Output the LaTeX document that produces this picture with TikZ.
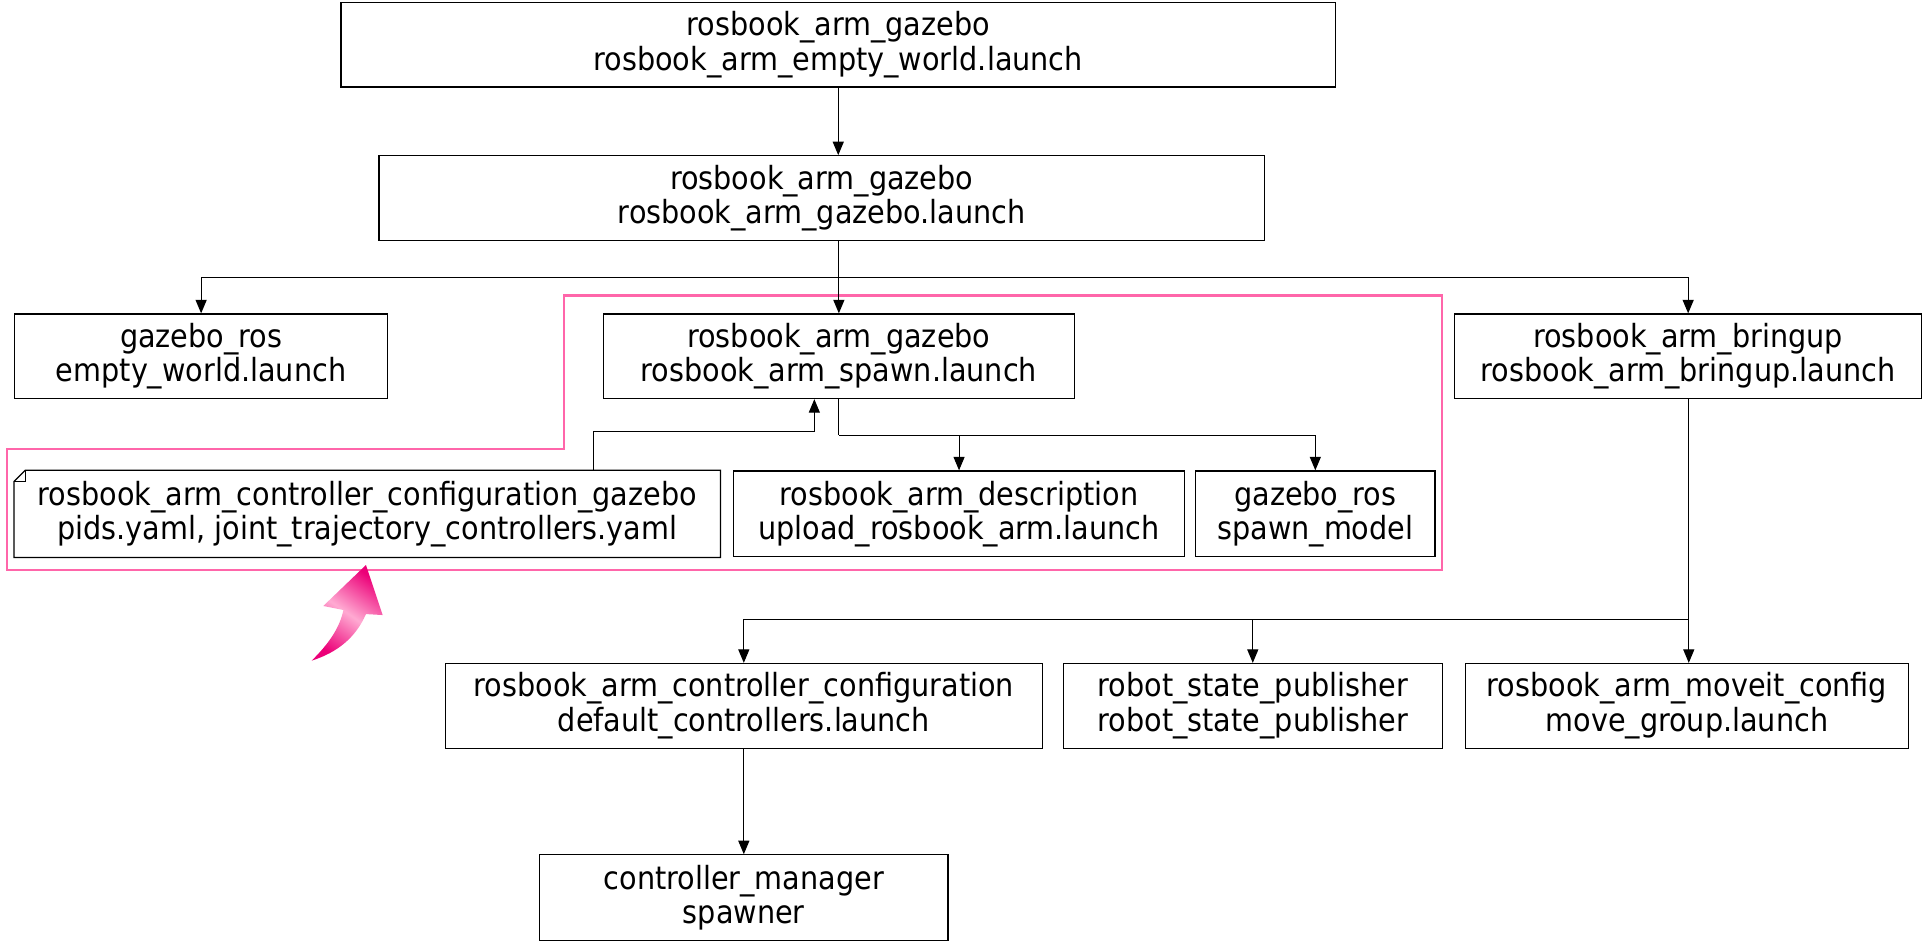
\documentclass[tikz,border=0pt]{standalone}
\usepackage{fontspec}
\setmainfont{DejaVu Sans Condensed}
\usetikzlibrary{arrows.meta,calc}
\definecolor{pinkline}{RGB}{255,102,170}
\definecolor{pinkdark}{RGB}{236,0,120}
\definecolor{pinklight}{RGB}{255,170,210}
\begin{document}
\begin{tikzpicture}[x=1pt,y=1pt,
  box/.style={draw=black,line width=1pt,minimum height=69pt,inner sep=0pt,align=center,font=\fontsize{26}{28}\selectfont},
  conn/.style={draw=black,line width=0.9pt,-{Triangle[length=11pt,width=9pt]}},
  wire/.style={draw=black,line width=0.9pt}]
\useasboundingbox (0,0) rectangle (1568,-774.6);
% pink group outline
\draw[pinkline,line width=1.8pt] (460,-241) -- (1176,-241) -- (1176,-465) -- (6,-465) -- (6,-366) -- (460,-366) -- cycle;
% nodes
\node[box,minimum width=811pt] (top) at (683.5,-36.5) {rosbook\_arm\_gazebo\\rosbook\_arm\_empty\_world.launch};
\node[box,minimum width=722pt] (g2) at (670,-161.5) {rosbook\_arm\_gazebo\\rosbook\_arm\_gazebo.launch};
\node[box,minimum width=304pt] (ger) at (164,-290.5) {gazebo\_ros\\empty\_world.launch};
\node[box,minimum width=384pt] (spawn) at (684,-290.5) {rosbook\_arm\_gazebo\\rosbook\_arm\_spawn.launch};
\node[box,minimum width=381pt] (bringup) at (1376.5,-290.5) {rosbook\_arm\_bringup\\rosbook\_arm\_bringup.launch};
\node[box,draw=none,minimum width=575pt,minimum height=70pt] (note) at (299.5,-419) {rosbook\_arm\_controller\_configuration\_gazebo\\pids.yaml, joint\_trajectory\_controllers.yaml};
\draw[line width=1pt] ($(note.north west)+(0,-9)$) -- ($(note.north west)+(9,0)$) -- (note.north east) -- (note.south east) -- (note.south west) -- cycle;
\draw[line width=0.8pt] ($(note.north west)+(9,0)$) -- ($(note.north west)+(9,-9)$) -- ($(note.north west)+(0,-9)$);
\node[box,minimum width=368pt,minimum height=70pt] (desc) at (782,-419) {rosbook\_arm\_description\\upload\_rosbook\_arm.launch};
\node[box,minimum width=195pt,minimum height=70pt] (spm) at (1072.5,-419) {gazebo\_ros\\spawn\_model};
\node[box,minimum width=487pt] (cc) at (606.5,-575.5) {rosbook\_arm\_controller\_configuration\\default\_controllers.launch};
\node[box,minimum width=309pt] (rsp) at (1021.5,-575.5) {robot\_state\_publisher\\robot\_state\_publisher};
\node[box,minimum width=361pt] (moveit) at (1375.5,-575.5) {rosbook\_arm\_moveit\_config\\move\_group.launch};
\node[box,minimum width=333pt,minimum height=70pt] (cm) at (606.5,-732) {controller\_manager\\spawner};
% bus coordinates
\coordinate (b1) at (684,-226);
\coordinate (n1) at (484,-352);
\coordinate (n2) at (664,-352);
\coordinate (b2) at (684,-355);
\coordinate (b3) at (1377,-505);
% connectors
\draw[conn] (top.south) -- (top.south |- g2.north);
\draw[wire] (g2.south -| b1) -- (b1);
\draw[conn] (b1) -| (ger.north);
\draw[conn] (b1) -| (bringup.north);
\draw[conn] (b1) -- (spawn.north);
\draw[conn] (note.north -| n1) |- (n2) -- (spawn.south -| n2);
\draw[wire] (spawn.south -| b2) -- (b2);
\draw[conn] (b2) -| (spm.north);
\draw[conn] (desc.north |- b2) -- (desc.north);
\draw[wire] (bringup.south -| b3) -- (b3);
\draw[conn] (b3) -- (b3 |- moveit.north);
\draw[conn] (b3) -| (cc.north);
\draw[conn] (rsp.north |- b3) -- (rsp.north);
\draw[conn] (cc.south) -- (cm.north);
% pink curved arrow
\shade[top color=pinkdark,bottom color=pinkdark,middle color=pinklight,shading angle=-35]
  (298.4,-460.7) -- (312,-501.5) -- (298.4,-500.7)
  .. controls (290,-520) and (275,-532) .. (254.1,-538.7)
  .. controls (268,-525) and (277,-512) .. (280,-497.4)
  -- (263.6,-494.1) -- cycle;
\end{tikzpicture}
\end{document}
